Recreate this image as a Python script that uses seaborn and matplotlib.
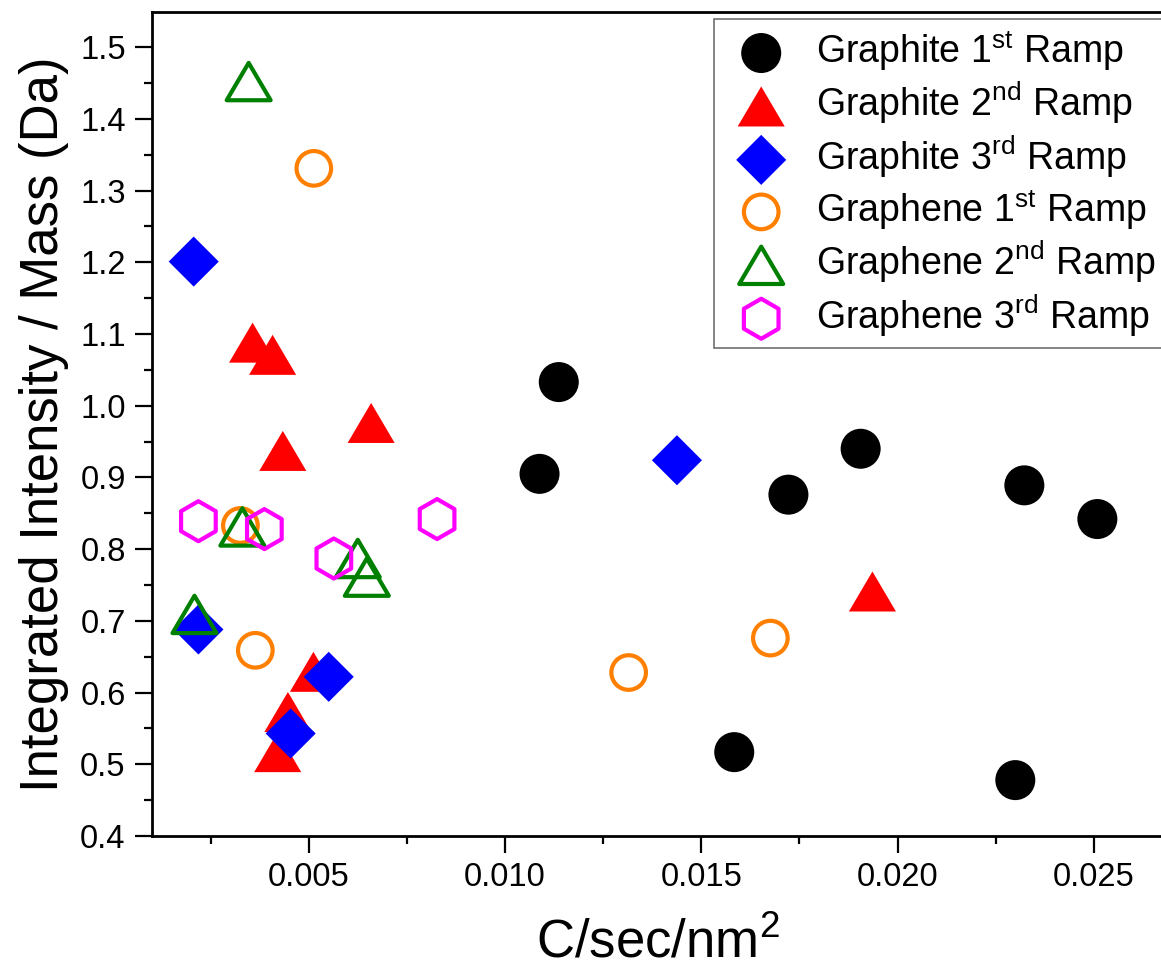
import matplotlib
matplotlib.use("Agg")
import matplotlib.pyplot as plt
from matplotlib.path import Path
from matplotlib.ticker import MultipleLocator, FormatStrFormatter
import seaborn as sns
import pandas as pd

# ---- data ----
graphite1_x = [0.01088, 0.01137, 0.01584, 0.01722, 0.01906, 0.02300, 0.02323, 0.02509]
graphite1_y = [0.905, 1.033, 0.517, 0.876, 0.940, 0.478, 0.889, 0.842]

graphite2_x = [0.00357, 0.00408, 0.00434, 0.00659, 0.00512, 0.00447, 0.00421, 0.01936]
graphite2_y = [1.088, 1.071, 0.937, 0.976, 0.629, 0.573, 0.517, 0.741]

graphite3_x = [0.00207, 0.01438, 0.00551, 0.00454, 0.00219]
graphite3_y = [1.201, 0.924, 0.622, 0.543, 0.688]

graphene1_x = [0.00513, 0.00364, 0.00326, 0.01315, 0.01676]
graphene1_y = [1.331, 0.659, 0.833, 0.628, 0.676]

graphene2_x = [0.00347, 0.00331, 0.00625, 0.00648, 0.00209]
graphene2_y = [1.452, 0.831, 0.787, 0.761, 0.709]

graphene3_x = [0.00219, 0.00387, 0.00564, 0.00827]
graphene3_y = [0.839, 0.828, 0.787, 0.842]

labels = [
    "Graphite 1$^{\\mathrm{st}}$ Ramp",
    "Graphite 2$^{\\mathrm{nd}}$ Ramp",
    "Graphite 3$^{\\mathrm{rd}}$ Ramp",
    "Graphene 1$^{\\mathrm{st}}$ Ramp",
    "Graphene 2$^{\\mathrm{nd}}$ Ramp",
    "Graphene 3$^{\\mathrm{rd}}$ Ramp",
]

# ---- style ----
sns.set_style("ticks")
plt.rcParams["font.family"] = ["Liberation Sans", "DejaVu Sans"]
plt.rcParams["mathtext.fontset"] = "custom"
plt.rcParams["mathtext.rm"] = "Liberation Sans"
plt.rcParams["mathtext.it"] = "Liberation Sans:italic"
plt.rcParams["mathtext.bf"] = "Liberation Sans:bold"
plt.rcParams["text.color"] = "black"
plt.rcParams["axes.labelcolor"] = "black"
plt.rcParams["xtick.color"] = "black"
plt.rcParams["ytick.color"] = "black"

tri = Path([(-1.0, -0.85), (1.0, -0.85), (0.0, 0.85), (-1.0, -0.85)],
           [Path.MOVETO, Path.LINETO, Path.LINETO, Path.CLOSEPOLY])

fig = plt.figure(figsize=(11.61, 9.76), dpi=100)
ax = fig.add_axes([0.131, 0.1434, 0.872, 0.8443])

series = [
    (graphite1_x, graphite1_y, "o", 830, "black", True),
    (graphite2_x, graphite2_y, tri, 1150, "#ff0000", True),
    (graphite3_x, graphite3_y, "D", 650, "#0000ff", True),
    (graphene1_x, graphene1_y, "o", 620, "#ff8000", False),
    (graphene2_x, graphene2_y, tri, 1000, "#008000", False),
    (graphene3_x, graphene3_y, "h", 830, "#ff00ff", False),
]

for (xs, ys, mk, s, col, filled), lab in zip(series, labels):
    df = pd.DataFrame({"x": xs, "y": ys})
    if filled:
        sns.scatterplot(data=df, x="x", y="y", ax=ax, marker=mk, s=s,
                        color=col, edgecolor="none", linewidth=0, label=lab,
                        zorder=3)
    else:
        sns.scatterplot(data=df, x="x", y="y", ax=ax, marker=mk, s=s,
                        facecolor="none", edgecolor=col, linewidth=3.0,
                        label=lab, zorder=3)

ax.set_xlim(0.00101, 0.0268)
ax.set_ylim(0.4, 1.549)
ax.xaxis.set_major_locator(MultipleLocator(0.005))
ax.xaxis.set_minor_locator(MultipleLocator(0.0025))
ax.yaxis.set_major_locator(MultipleLocator(0.1))
ax.yaxis.set_minor_locator(MultipleLocator(0.05))
ax.xaxis.set_major_formatter(FormatStrFormatter("%.3f"))
ax.yaxis.set_major_formatter(FormatStrFormatter("%.1f"))

ax.tick_params(axis="both", which="major", direction="out", length=12,
               width=1.6, labelsize=23.5, colors="black", pad=7)
ax.tick_params(axis="both", which="minor", direction="out", length=5.5,
               width=1.6)
ax.tick_params(top=False, right=False)

for side in ["left", "bottom", "top"]:
    ax.spines[side].set_visible(True)
    ax.spines[side].set_linewidth(2)
    ax.spines[side].set_color("black")
ax.spines["right"].set_visible(False)

ax.set_xlabel("C/sec/nm$^{2}$", fontsize=38, labelpad=18)
ax.set_ylabel("Integrated Intensity / Mass (Da)", fontsize=38, labelpad=8)

leg = ax.legend(loc="upper right", bbox_to_anchor=(1.0, 0.992), fontsize=27,
                frameon=True, fancybox=False, edgecolor="#707070",
                framealpha=1, borderpad=0.25, labelspacing=0.19,
                handletextpad=0.45, handlelength=2.0, borderaxespad=0.0)
leg.get_frame().set_linewidth(1.2)

fig.savefig("out.png", dpi=100)
